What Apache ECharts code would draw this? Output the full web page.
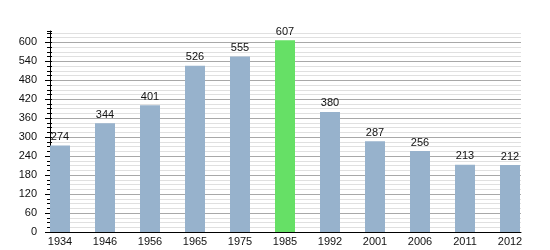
<!DOCTYPE html>
<html><head><meta charset="utf-8">
<script src="https://cdn.jsdelivr.net/npm/echarts@6/dist/echarts.min.js"></script>
<style>html,body{margin:0;padding:0;background:#fff}#c{width:550px;height:250px}</style>
</head><body><div id="c"></div>
<script>
const years = ['1934','1946','1956','1965','1975','1985','1992','2001','2006','2011','2012'];
const population = [274,344,401,526,555,607,380,287,256,213,212];
const highlightYear = '1985';
const yMax = 636;

const chart = echarts.init(document.getElementById('c'), null, {renderer:'canvas'});
const font = 'Liberation Sans, Arial, sans-serif';
const barData = years.map((y,i)=>({value: population[i], itemStyle:{color: y===highlightYear ? '#66e066' : '#97b2cc'}}));
chart.setOption({
  animation:false,
  grid:[
    {left:50, right:29, top:31, bottom:18},
    {left:37.5, width:495, top:31, bottom:18}
  ],
  xAxis:[
    {gridIndex:0, type:'value', position:'bottom', min:0, max:1, axisLine:{show:true, onZero:false, lineStyle:{color:'#000', width:1}}, axisTick:{show:false}, axisLabel:{show:false}, splitLine:{show:false}, z:5},
    {gridIndex:1, type:'category', position:'bottom', data:years, axisLine:{show:false}, axisTick:{show:false},
     axisLabel:{color:'#111', fontSize:11, fontFamily:font, margin:4, interval:0}}
  ],
  yAxis:[
    {gridIndex:0, type:'value', position:'left', min:0, max:yMax, interval:15, axisLine:{show:false},
     axisTick:{show:true, length:3, lineStyle:{color:'#000'}}, axisLabel:{show:false},
     splitLine:{show:true, showMaxLine:false, lineStyle:{color:'#e0e0e0', width:1}}},
    {gridIndex:0, type:'value', position:'left', offset:0, min:0, max:yMax, interval:60, axisLine:{show:true, onZero:false, lineStyle:{color:'#000', width:1}},
     axisTick:{show:true, length:5, lineStyle:{color:'#000'}},
     axisLabel:{color:'#111', fontSize:11, fontFamily:font, margin:13, showMaxLabel:false,
       formatter:v=> (v%60===0 ? String(v) : '')},
     splitLine:{show:true, showMaxLine:false, lineStyle:{color:'#a8a8a8', width:1}}},
    {gridIndex:1, type:'value', position:'left', min:0, max:yMax, show:false, splitLine:{show:false}},
    {gridIndex:0, type:'value', position:'left', offset:0, min:0, max:yMax, interval:15, axisLine:{show:false},
     axisTick:{show:true, inside:true, length:2, lineStyle:{color:'#000'}}, axisLabel:{show:false}, splitLine:{show:false}}
  ],
  series:[{
    type:'bar', xAxisIndex:1, yAxisIndex:2, data:barData, barWidth:20,
    label:{show:true, position:'top', distance:3, color:'#111', fontSize:11, fontFamily:font}
  }]
});
</script></body></html>
